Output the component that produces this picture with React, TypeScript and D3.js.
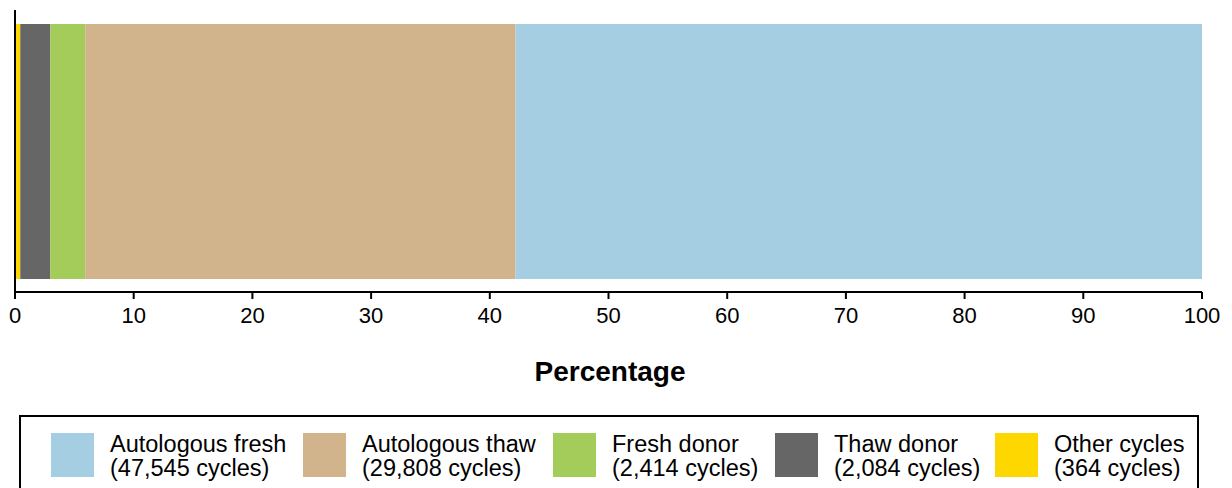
import React from "react";
import * as d3 from "d3";

const categories = ["Other cycles", "Thaw donor", "Fresh donor", "Autologous thaw", "Autologous fresh"];
const cycles = [364, 2084, 2414, 29808, 47545];
const colors = ["#FFD700", "#666666", "#A3CC5A", "#D2B48C", "#A6CEE3"];
const tickValues = [0, 10, 20, 30, 40, 50, 60, 70, 80, 90, 100];
const legendOrder = ["Autologous fresh", "Autologous thaw", "Fresh donor", "Thaw donor", "Other cycles"];
const legendX = [51, 303, 553, 775, 995];

export default function App() {
  const W = 1232, H = 488;
  const x = d3.scaleLinear().domain([0, 100]).range([15, 1202]);
  const total = d3.sum(cycles);
  const pct = cycles.map((c) => (c / total) * 100);
  const cum = d3.cumsum(pct);
  const starts = cum.map((c, i) => c - pct[i]);
  const barTop = 24, barBottom = 279, axisY = 292;
  const font = "Liberation Sans, Arial, sans-serif";
  return (
    <svg width={W} height={H} style={{ position: "absolute", left: 0, top: 0, background: "#fff" }} fontFamily={font}>
      {categories.map((c, i) => (
        <rect key={c} x={x(starts[i])} y={barTop} width={x(cum[i]) - x(starts[i])} height={barBottom - barTop} fill={colors[i]} />
      ))}
      <line x1={15} x2={15} y1={10} y2={axisY} stroke="#000" strokeWidth={2} />
      <line x1={x(0)} x2={x(100)} y1={axisY} y2={axisY} stroke="#000" strokeWidth={2} />
      {tickValues.map((t) => (
        <g key={t}>
          <line x1={x(t)} x2={x(t)} y1={axisY} y2={axisY + 7} stroke="#000" strokeWidth={2} />
          <text x={x(t)} y={323} textAnchor="middle" fontSize={22} fill="#000">{t}</text>
        </g>
      ))}
      <text x={610} y={381} textAnchor="middle" fontSize={28} fontWeight="bold" fill="#000">Percentage</text>
      <rect x={20} y={416} width={1178} height={100} fill="none" stroke="#000" strokeWidth={2} />
      {legendOrder.map((name, j) => {
        const i = categories.indexOf(name);
        const lx = legendX[j];
        return (
          <g key={name}>
            <rect x={lx} y={433} width={43} height={44} fill={colors[i]} />
            <text x={lx + 59} y={452} fontSize={23.5} fill="#000">{name}</text>
            <text x={lx + 59} y={476} fontSize={23.5} fill="#000">({d3.format(",")(cycles[i])} cycles)</text>
          </g>
        );
      })}
    </svg>
  );
}
